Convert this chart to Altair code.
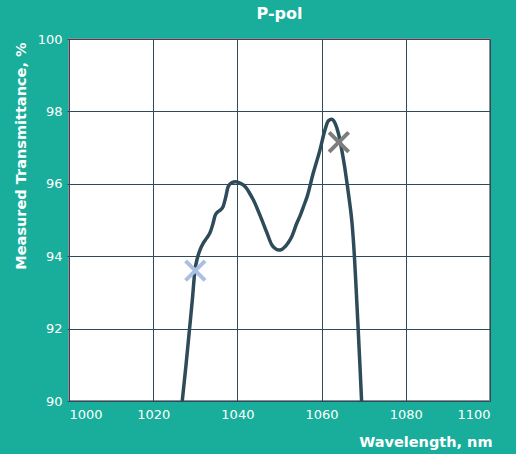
import altair as alt
import pandas as pd

# Measured P-polarisation transmittance curve
wavelength = [1026.9, 1027.8, 1028.6, 1029.3, 1029.9, 1030.5, 1031.1, 1031.9, 1032.7,
              1033.5, 1034.2, 1034.7, 1035.3, 1035.9, 1036.6, 1037.2, 1037.8, 1038.6,
              1039.6, 1040.6, 1041.4, 1042.2, 1042.8, 1043.8, 1045.4, 1047.0, 1048.1,
              1048.9, 1049.8, 1050.6, 1051.3, 1052.1, 1052.9, 1054.1, 1055.0, 1055.8,
              1056.6, 1058.0, 1059.6, 1060.8, 1061.6, 1062.4, 1063.2, 1064.0, 1064.8,
              1065.5, 1066.0, 1066.5, 1067.2, 1067.8, 1068.1, 1068.7, 1069.1, 1069.5]
transmittance = [90.0, 91.0, 91.96, 92.8, 93.6, 93.95, 94.17, 94.36, 94.5,
                 94.65, 94.9, 95.12, 95.22, 95.27, 95.37, 95.62, 95.92, 96.03,
                 96.06, 96.02, 95.97, 95.87, 95.76, 95.55, 95.12, 94.65, 94.33,
                 94.22, 94.17, 94.19, 94.26, 94.38, 94.54, 94.91, 95.15, 95.4,
                 95.66, 96.29, 96.93, 97.49, 97.74, 97.78, 97.67, 97.39, 96.93,
                 96.45, 96.05, 95.62, 94.95, 93.98, 93.34, 91.96, 91.0, 90.0]

# Highlighted measurement points
marker_wl = [1030.0, 1064.1]
marker_t = [93.6, 97.15]
marker_color = ["#a9c0e2", "#7d7d7d"]

x_ticks = [1000, 1020, 1040, 1060, 1080, 1100]
y_ticks = [90, 92, 94, 96, 98, 100]

curve = pd.DataFrame({"wl": wavelength, "t": transmittance})
markers = pd.DataFrame({"wl": marker_wl, "t": marker_t, "c": marker_color})

FONT = "DejaVu Sans"
INK = "#2e4b59"

x_enc = alt.X(
    "wl:Q",
    scale=alt.Scale(domain=[1000, 1100], nice=False, zero=False),
    axis=alt.Axis(
        values=x_ticks, format="d", title="Wavelength, nm",
        grid=True, gridColor=INK, gridWidth=1, gridOpacity=1,
        domain=False, ticks=False, labelPadding=7,
        labelColor="white", labelFont=FONT, labelFontSize=13,
        titleColor="white", titleFont=FONT, titleFontSize=14.5, titleFontWeight="bold",
        titleX=423, titleY=45, titleAlign="right", titleBaseline="alphabetic",
    ),
)
y_enc = alt.Y(
    "t:Q",
    scale=alt.Scale(domain=[90, 100], nice=False, zero=False),
    axis=alt.Axis(
        values=y_ticks, format="d", title="Measured Transmittance, %",
        grid=True, gridColor=INK, gridWidth=1, gridOpacity=1,
        domain=False, ticks=True, tickSize=2, tickColor=INK, labelPadding=5,
        labelColor="white", labelFont=FONT, labelFontSize=13,
        titleColor="white", titleFont=FONT, titleFontSize=14.5, titleFontWeight="bold",
        titleAngle=270, titleX=-44, titleY=3, titleAlign="right",
        titleBaseline="alphabetic",
    ),
)

line = alt.Chart(curve).mark_line(
    color=INK, strokeWidth=3.5, interpolate="monotone", clip=True
).encode(x=x_enc, y=y_enc)

points = alt.Chart(markers).mark_point(
    shape="M-1,-1L1,1M-1,1L1,-1", size=380, strokeWidth=4, filled=False, opacity=1
).encode(
    x="wl:Q", y="t:Q",
    color=alt.Color("c:N", scale=None, legend=None),
)

chart = (
    alt.layer(line, points)
    .properties(
        width=421, height=362,
        title=alt.TitleParams(
            "P-pol", color="white", font=FONT, fontSize=16, fontWeight="bold",
            anchor="middle", baseline="alphabetic", offset=17, dy=19,
        ),
        autosize=alt.AutoSizeParams(type="none"),
        padding={"left": 69, "top": 39, "right": 26, "bottom": 53},
        background="#19ae9b",
    )
    .configure_view(fill="white", stroke="#8b9098", strokeWidth=2)
)

chart.save("out.html", embed_options={"renderer": "svg", "actions": False})
